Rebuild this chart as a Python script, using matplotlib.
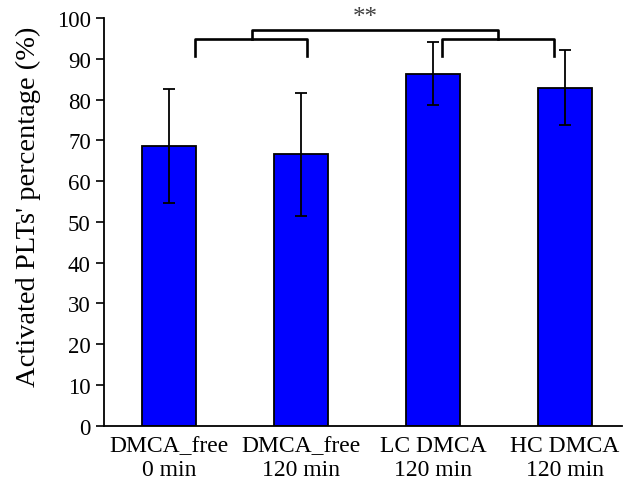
import matplotlib
matplotlib.use("Agg")
import matplotlib.pyplot as plt

# group labels, mean and error
groups = ["DMCA_free\n0 min", "DMCA_free\n120 min", "LC DMCA\n120 min", "HC DMCA\n120 min"]
means = [68.6, 66.6, 86.3, 82.9]
errors = [14.0, 15.1, 7.7, 9.2]
yticks = [0, 10, 20, 30, 40, 50, 60, 70, 80, 90, 100]

plt.rcParams["font.family"] = ["Liberation Serif", "DejaVu Serif"]

fig = plt.figure(figsize=(6.25, 4.85), dpi=100)
ax = fig.add_axes([0.1664, 0.1206, 0.8286, 0.8402])

x = list(range(len(groups)))
ax.bar(x, means, width=0.41, color="#0000ff", edgecolor="black", linewidth=1.3)
ax.errorbar(x, means, yerr=errors, fmt="none", ecolor="black",
            elinewidth=1.3, capsize=4, capthick=1.3)

ax.set_xlim(-0.49, 3.43)
ax.set_ylim(0, 100)
ax.set_yticks(yticks)
ax.set_xticks(x)
ax.set_xticklabels(groups, fontsize=17, linespacing=1.15)
ax.tick_params(axis="x", length=0, pad=7)
ax.tick_params(axis="y", labelsize=16.5, length=5.5, width=1.2, direction="out", pad=4)
ax.set_ylabel("Activated PLTs' percentage (%)", fontsize=20.5)
ax.yaxis.set_label_coords(-0.122, 0.539)

for s in ["top", "right"]:
    ax.spines[s].set_visible(False)
for s in ["left", "bottom"]:
    ax.spines[s].set_linewidth(1.3)

# significance brackets
lw = 1.9
ax.plot([0.2, 0.2, 1.05, 1.05], [90.7, 94.8, 94.8, 90.7], color="black", lw=lw, clip_on=False)
ax.plot([2.07, 2.07, 2.92, 2.92], [90.7, 94.8, 94.8, 90.7], color="black", lw=lw, clip_on=False)
ax.plot([0.63, 0.63, 2.49, 2.49], [94.8, 97.1, 97.1, 94.8], color="black", lw=lw, clip_on=False)
ax.text(1.49, 100.2, "**", ha="center", va="center", fontsize=18, color="#404040", clip_on=False)

fig.savefig("out.png", dpi=100)
